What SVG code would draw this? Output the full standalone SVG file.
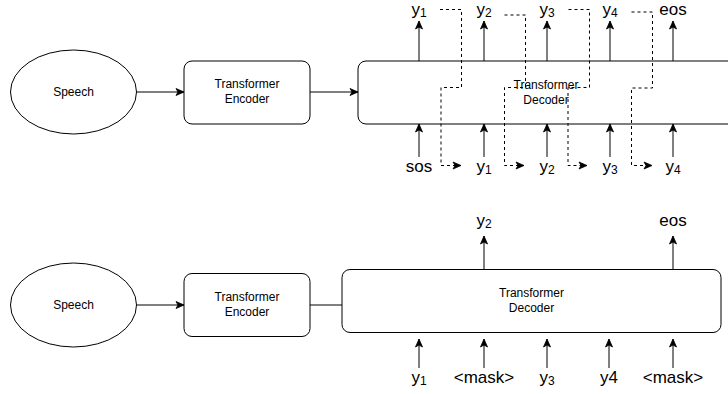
<svg xmlns="http://www.w3.org/2000/svg" width="728" height="394" viewBox="0 0 728 394">
<style>
.shape{fill:#fff;stroke:#000;stroke-width:1}
.node{font-family:"Liberation Sans",Arial,sans-serif;font-size:12px;fill:#000;text-anchor:middle}
.lbl{font-family:"Liberation Sans",Arial,sans-serif;font-size:17px;fill:#000;text-anchor:middle}
.sub{font-size:12px}
.edge{fill:none;stroke:#000;stroke-width:1}
.dash{fill:none;stroke:#000;stroke-width:1;stroke-dasharray:3 3}
</style>
<defs>
<marker id="arr" markerUnits="userSpaceOnUse" markerWidth="10" markerHeight="10" viewBox="0 0 10 10" refX="9" refY="5" orient="auto">
<path d="M1,1.5 L9,5 L1,8.5 L3,5 Z" fill="#000" stroke="#000" stroke-width="0.8"/>
</marker>
</defs>
<rect width="728" height="394" fill="#fff"/>

<!-- Top diagram -->
<g id="speech1"><ellipse class="shape" cx="73.5" cy="92" rx="63" ry="42"/><text class="node" x="73.5" y="96">Speech</text></g>
<g id="encoder1"><rect class="shape" x="184" y="61" width="126" height="63" rx="8"/><text class="node" x="247" y="88">Transformer</text><text class="node" x="247" y="103">Encoder</text></g>
<g id="decoder1"><rect class="shape" x="358" y="61" width="380" height="63" rx="8"/><text class="node" x="546" y="89">Transformer</text><text class="node" x="546" y="104">Decoder</text></g>

<g id="labels1">
<text class="lbl" x="419" y="15">y<tspan class="sub" dy="2">1</tspan></text>
<text class="lbl" x="484" y="15">y<tspan class="sub" dy="2">2</tspan></text>
<text class="lbl" x="547" y="15">y<tspan class="sub" dy="2">3</tspan></text>
<text class="lbl" x="610" y="15">y<tspan class="sub" dy="2">4</tspan></text>
<text class="lbl" x="673" y="15">eos</text>
<text class="lbl" x="419" y="172">sos</text>
<text class="lbl" x="484" y="172">y<tspan class="sub" dy="2">1</tspan></text>
<text class="lbl" x="547" y="172">y<tspan class="sub" dy="2">2</tspan></text>
<text class="lbl" x="610" y="172">y<tspan class="sub" dy="2">3</tspan></text>
<text class="lbl" x="673" y="172">y<tspan class="sub" dy="2">4</tspan></text>
</g>

<!-- Bottom diagram -->
<g id="speech2"><ellipse class="shape" cx="73.5" cy="305" rx="63" ry="42"/><text class="node" x="73.5" y="309">Speech</text></g>
<g id="encoder2"><rect class="shape" x="184" y="273.5" width="126" height="63" rx="8"/><text class="node" x="247" y="301">Transformer</text><text class="node" x="247" y="316">Encoder</text></g>
<g id="decoder2"><rect class="shape" x="342" y="269.5" width="379" height="63" rx="8"/><text class="node" x="531.5" y="297">Transformer</text><text class="node" x="531.5" y="312">Decoder</text></g>

<g id="labels2">
<text class="lbl" x="484" y="226">y<tspan class="sub" dy="2">2</tspan></text>
<text class="lbl" x="673" y="226">eos</text>
<text class="lbl" x="419" y="383">y<tspan class="sub" dy="2">1</tspan></text>
<text class="lbl" x="484" y="383">&lt;mask&gt;</text>
<text class="lbl" x="547" y="383">y<tspan class="sub" dy="2">3</tspan></text>
<text class="lbl" x="609" y="383">y4</text>
<text class="lbl" x="673" y="383">&lt;mask&gt;</text>
</g>

<g id="connectors">
<line class="edge" x1="137" y1="92" x2="184" y2="92" marker-end="url(#arr)"/>
<line class="edge" x1="310" y1="92" x2="358" y2="92" marker-end="url(#arr)"/>
<line class="edge" x1="419" y1="61" x2="419" y2="21" marker-end="url(#arr)"/>
<line class="edge" x1="484" y1="61" x2="484" y2="21" marker-end="url(#arr)"/>
<line class="edge" x1="547" y1="61" x2="547" y2="21" marker-end="url(#arr)"/>
<line class="edge" x1="610" y1="61" x2="610" y2="21" marker-end="url(#arr)"/>
<line class="edge" x1="673" y1="61" x2="673" y2="21" marker-end="url(#arr)"/>
<line class="edge" x1="419" y1="157" x2="419" y2="124" marker-end="url(#arr)"/>
<line class="edge" x1="484" y1="157" x2="484" y2="124" marker-end="url(#arr)"/>
<line class="edge" x1="547" y1="157" x2="547" y2="124" marker-end="url(#arr)"/>
<line class="edge" x1="610" y1="157" x2="610" y2="124" marker-end="url(#arr)"/>
<line class="edge" x1="673" y1="157" x2="673" y2="124" marker-end="url(#arr)"/>
<path class="dash" d="M440,9.5 H461.5 V87.5 H441 V165.5 H461" marker-end="url(#arr)"/>
<path class="dash" d="M504.5,15 H525.5 V87.5 H504.5 V165.5 H524" marker-end="url(#arr)"/>
<path class="dash" d="M568.5,9.5 H589.5 V87.5 H568 V165.5 H587" marker-end="url(#arr)"/>
<path class="dash" d="M631.5,12 H652.5 V88 H631.5 V165.5 H652" marker-end="url(#arr)"/>

<line class="edge" x1="137" y1="305" x2="184" y2="305" marker-end="url(#arr)"/>
<line class="edge" x1="310" y1="305" x2="342" y2="305"/>
<line class="edge" x1="484" y1="269.5" x2="484" y2="236" marker-end="url(#arr)"/>
<line class="edge" x1="673" y1="269.5" x2="673" y2="236" marker-end="url(#arr)"/>
<line class="edge" x1="419" y1="368" x2="419" y2="339" marker-end="url(#arr)"/>
<line class="edge" x1="484" y1="368" x2="484" y2="339" marker-end="url(#arr)"/>
<line class="edge" x1="547" y1="368" x2="547" y2="339" marker-end="url(#arr)"/>
<line class="edge" x1="609" y1="368" x2="609" y2="339" marker-end="url(#arr)"/>
<line class="edge" x1="673" y1="368" x2="673" y2="339" marker-end="url(#arr)"/>
</g>
</svg>
